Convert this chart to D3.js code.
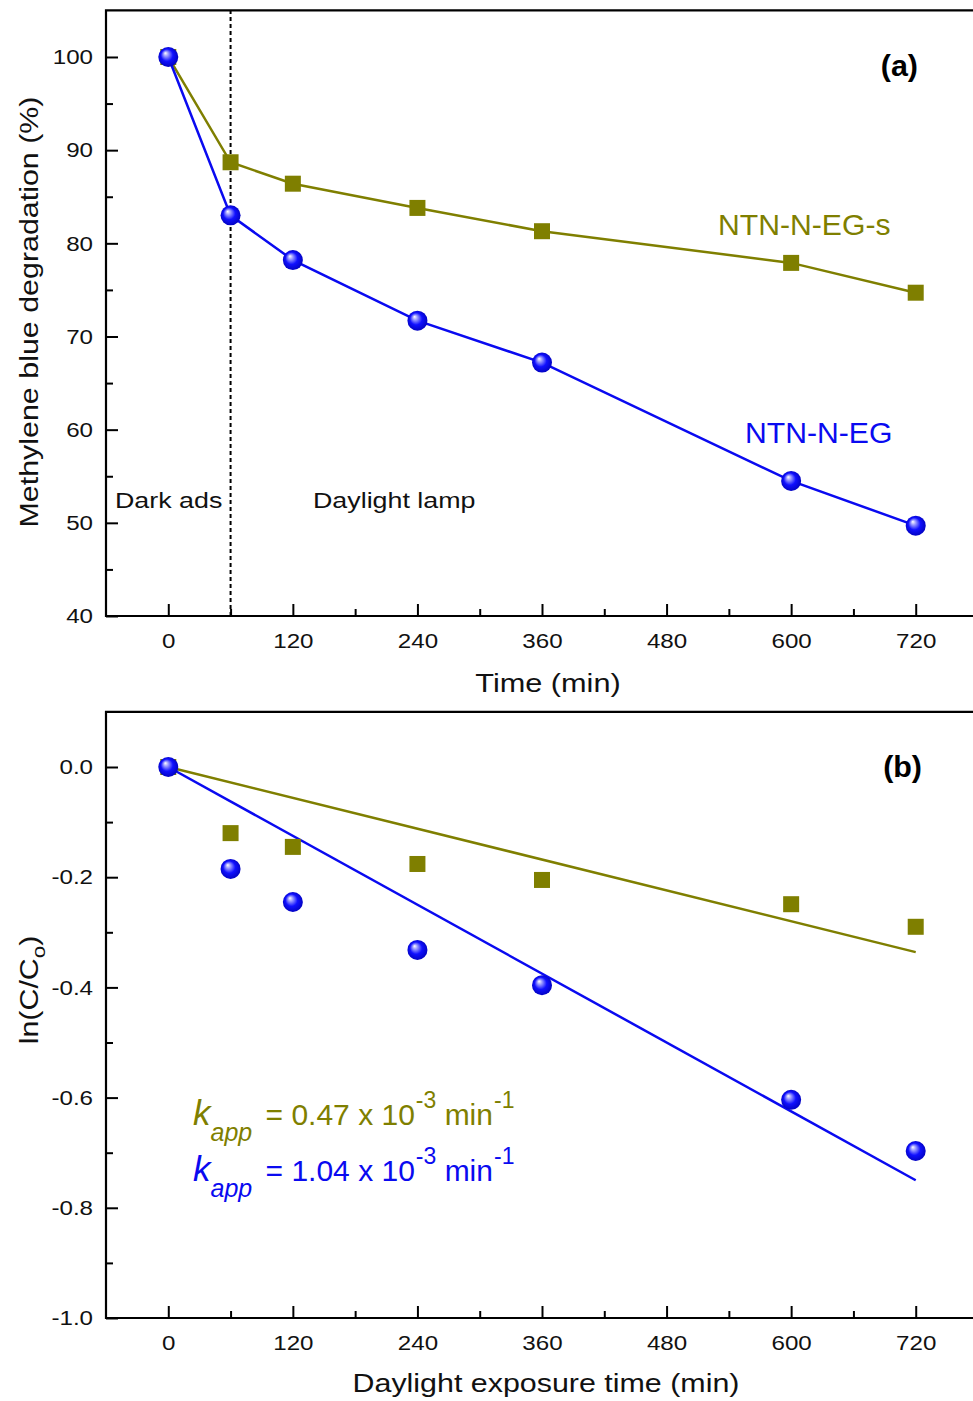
<!DOCTYPE html>
<html>
<head>
<meta charset="utf-8">
<script src="https://cdn.jsdelivr.net/npm/d3@7"></script>
<style>
body { margin: 0; background: #fff; }
text { font-family: "Liberation Sans", Arial, sans-serif; }
</style>
</head>
<body>
<svg id="chart" width="973" height="1401"></svg>
<script>
// data
var times = [0, 60, 120, 240, 360, 600, 720];
var degS  = [100, 88.7, 86.4, 83.8, 81.3, 77.9, 74.7];   // NTN-N-EG-s
var degEG = [100, 83.0, 78.2, 71.7, 67.2, 54.5, 49.7];   // NTN-N-EG
var lnS   = [0, -0.120, -0.145, -0.176, -0.205, -0.249, -0.290];
var lnEG  = [0, -0.185, -0.245, -0.332, -0.396, -0.604, -0.697];
var fitTimes = [0, 720];
var fitS  = [0, -0.336];
var fitEG = [0, -0.750];

var xMajor = [0, 120, 240, 360, 480, 600, 720];
var xMinor = [60, 180, 300, 420, 540, 660, 780];
var yMajorA = [40, 50, 60, 70, 80, 90, 100];
var yMinorA = [45, 55, 65, 75, 85, 95];
var yMajorB = [0, -0.2, -0.4, -0.6, -0.8, -1.0];
var yMinorB = [-0.1, -0.3, -0.5, -0.7, -0.9];

var olive = "#7f7f00", blue = "#0a0af0";
var TICK_SX = 1.15;   // the original lettering is a bit wide

var svg = d3.select("#chart");

var defs = svg.append("defs");
var grad = defs.append("radialGradient").attr("id", "ball")
    .attr("cx", "50%").attr("cy", "50%").attr("r", "55%")
    .attr("fx", "35%").attr("fy", "30%");
grad.append("stop").attr("offset", "0%").attr("stop-color", "#ffffff");
grad.append("stop").attr("offset", "22%").attr("stop-color", "#9a9aff");
grad.append("stop").attr("offset", "55%").attr("stop-color", "#1010ff");
grad.append("stop").attr("offset", "100%").attr("stop-color", "#0000b8");

var x = d3.scaleLinear().domain([-60, 780]).range([106, 978]);

// text placed at (px,py), stretched sideways by sx, rotated by rot
function label(px, py, str, size, sx, opts) {
  opts = opts || {};
  var t = svg.append("text")
    .attr("transform", "translate(" + px + "," + py + ")" +
          (opts.rot ? " rotate(" + opts.rot + ")" : "") + " scale(" + sx + ",1)")
    .attr("text-anchor", opts.anchor || "start")
    .attr("fill", opts.color || "#111")
    .style("font-size", size + "px");
  if (opts.bold) t.style("font-weight", "bold");
  if (str) t.text(str);
  return t;
}

function drawFrame(y, yMajor, yMinor, fmt) {
  var top = y.range()[1], bottom = y.range()[0];
  var g = svg.append("g");

  // x ticks (inward)
  g.append("g").attr("transform", "translate(0," + bottom + ")")
    .call(d3.axisBottom(x).tickValues(xMinor).tickSize(-7).tickFormat(""))
    .call(function(s) { s.select(".domain").remove(); });
  g.append("g").attr("transform", "translate(0," + bottom + ")")
    .call(d3.axisBottom(x).tickValues(xMajor).tickSize(-12).tickPadding(17))
    .call(function(s) { s.select(".domain").remove(); });

  // y ticks (inward)
  g.append("g").attr("transform", "translate(106,0)")
    .call(d3.axisLeft(y).tickValues(yMinor).tickSize(-7).tickFormat(""))
    .call(function(s) { s.select(".domain").remove(); });
  g.append("g").attr("transform", "translate(106,0)")
    .call(d3.axisLeft(y).tickValues(yMajor).tickSize(-12).tickPadding(13 / TICK_SX).tickFormat(fmt))
    .call(function(s) { s.select(".domain").remove(); });

  g.selectAll(".tick line").attr("stroke", "#000").attr("stroke-width", 2);
  g.selectAll(".tick text").attr("fill", "#111").style("font-size", "21px")
    .style("font-family", "'Liberation Sans', Arial, sans-serif")
    .attr("transform", "scale(" + TICK_SX + ",1)");

  // frame: left, bottom, top (right side runs off the picture)
  g.append("path")
    .attr("d", "M980," + top + "H106V" + bottom + "H980")
    .attr("fill", "none").attr("stroke", "#000").attr("stroke-width", 2.2);
}

// ---------- panel (a) ----------
var yA = d3.scaleLinear().domain([40, 105]).range([616, 10.4]);
drawFrame(yA, yMajorA, yMinorA, d3.format("d"));

svg.append("line")
  .attr("x1", x(60)).attr("x2", x(60))
  .attr("y1", yA(40)).attr("y2", yA(105))
  .attr("stroke", "#000").attr("stroke-width", 2).attr("stroke-dasharray", "4,3");

var lineA = d3.line().x(function(d) { return x(d[0]); }).y(function(d) { return yA(d[1]); });

svg.append("path").datum(d3.zip(times, degS)).attr("d", lineA)
  .attr("fill", "none").attr("stroke", olive).attr("stroke-width", 2.5);
svg.append("path").datum(d3.zip(times, degEG)).attr("d", lineA)
  .attr("fill", "none").attr("stroke", blue).attr("stroke-width", 2.5);

svg.selectAll(".sqA").data(d3.zip(times, degS)).enter().append("rect")
  .attr("x", function(d) { return x(d[0]) - 8; })
  .attr("y", function(d) { return yA(d[1]) - 8; })
  .attr("width", 16).attr("height", 16).attr("fill", olive);
svg.selectAll(".ballA").data(d3.zip(times, degEG)).enter().append("circle")
  .attr("cx", function(d) { return x(d[0]); })
  .attr("cy", function(d) { return yA(d[1]); })
  .attr("r", 10).attr("fill", "url(#ball)");

label(918, 76, "(a)", 29, 1.05, { anchor: "end", bold: true, color: "#000" });
label(718, 235, "NTN-N-EG-s", 29, 1.04, { color: olive });
label(745, 443, "NTN-N-EG", 29, 1.04, { color: blue });
label(115, 508, "Dark ads", 22, 1.22);
label(313, 508, "Daylight lamp", 22, 1.22);

label(548, 692, "Time (min)", 26, 1.18, { anchor: "middle" });
label(38, 312, "Methylene blue degradation (%)", 26, 1.17, { anchor: "middle", rot: -90 });

// ---------- panel (b) ----------
var yB = d3.scaleLinear().domain([-1.0, 0.1]).range([1318, 711.9]);
drawFrame(yB, yMajorB, yMinorB, function(d) { return d.toFixed(1); });

var lineB = d3.line().x(function(d) { return x(d[0]); }).y(function(d) { return yB(d[1]); });

svg.append("path").datum(d3.zip(fitTimes, fitS)).attr("d", lineB)
  .attr("fill", "none").attr("stroke", olive).attr("stroke-width", 2.5);
svg.append("path").datum(d3.zip(fitTimes, fitEG)).attr("d", lineB)
  .attr("fill", "none").attr("stroke", blue).attr("stroke-width", 2.5);

svg.selectAll(".sqB").data(d3.zip(times, lnS)).enter().append("rect")
  .attr("x", function(d) { return x(d[0]) - 8; })
  .attr("y", function(d) { return yB(d[1]) - 8; })
  .attr("width", 16).attr("height", 16).attr("fill", olive);
svg.selectAll(".ballB").data(d3.zip(times, lnEG)).enter().append("circle")
  .attr("cx", function(d) { return x(d[0]); })
  .attr("cy", function(d) { return yB(d[1]); })
  .attr("r", 10).attr("fill", "url(#ball)");

label(922, 777, "(b)", 29, 1.05, { anchor: "end", bold: true, color: "#000" });

// rate constants: k_app = v x 10^-3 min^-1
function kapp(yPos, value, color) {
  var t = svg.append("text").attr("x", 193).attr("y", yPos).attr("fill", color)
    .style("font-size", "30px");
  t.append("tspan").style("font-style", "italic").style("font-size", "35px").text("k");
  t.append("tspan").style("font-style", "italic").style("font-size", "25px")
    .attr("dy", 16).text("app");
  t.append("tspan").attr("dx", 5).attr("dy", -16).text(" = " + value + " x 10");
  t.append("tspan").style("font-size", "23px").attr("dx", 1).attr("dy", -17).text("-3");
  t.append("tspan").attr("dy", 17).text(" min");
  t.append("tspan").style("font-size", "23px").attr("dx", 1).attr("dy", -17).text("-1");
}
kapp(1125, "0.47", olive);
kapp(1181, "1.04", blue);

label(546, 1392, "Daylight exposure time (min)", 26, 1.17, { anchor: "middle" });

var yt = label(38, 990, null, 26, 1.17, { anchor: "middle", rot: -90 });
yt.append("tspan").text("ln(C/C");
yt.append("tspan").attr("dy", 7).style("font-size", "19px").text("o");
yt.append("tspan").attr("dy", -7).text(")");
</script>
</body>
</html>
